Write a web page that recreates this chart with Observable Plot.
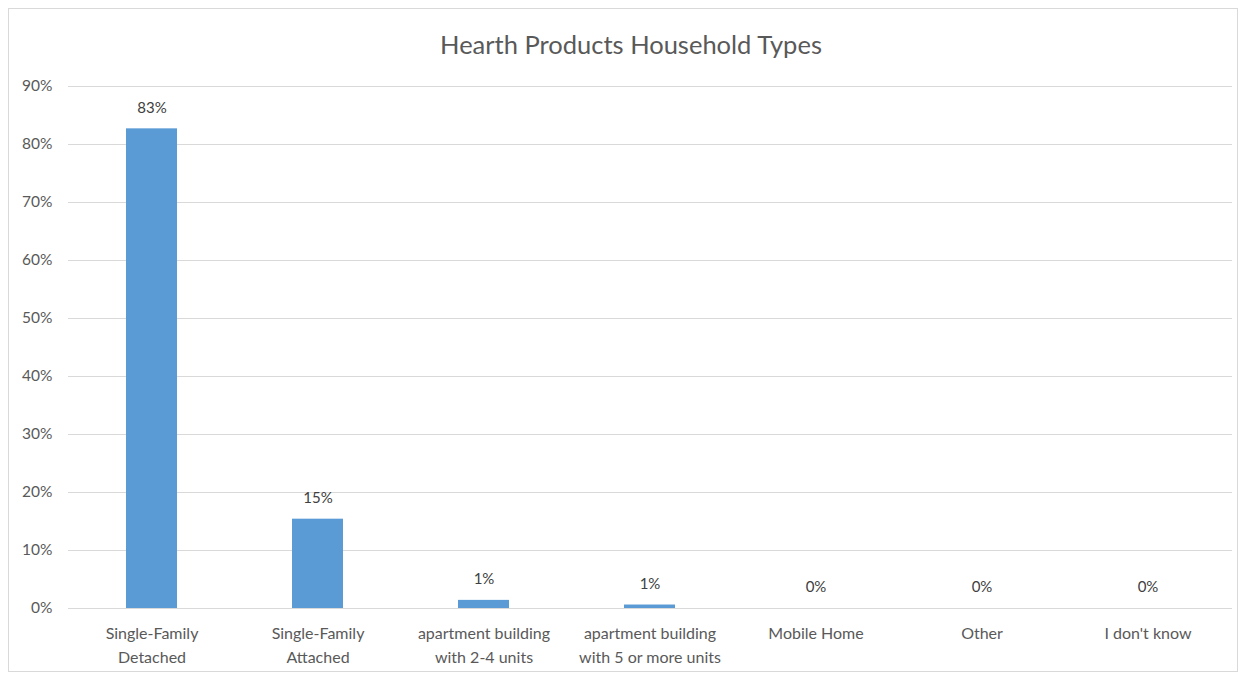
<!DOCTYPE html>
<html>
<head>
<meta charset="utf-8">
<script src="https://cdn.jsdelivr.net/npm/d3@7"></script>
<script src="https://cdn.jsdelivr.net/npm/@observablehq/plot@0.6"></script>
<style>
  html, body { margin: 0; padding: 0; background: #fff; }
  #wrap { position: relative; width: 1241px; height: 675px; overflow: hidden; }
  #frame { position: absolute; left: 8px; top: 8px; width: 1230px; height: 664px; border: 1px solid #d9d9d9; box-sizing: border-box; }
  #title { position: absolute; left: 16px; width: 1230px; top: 27px; text-align: center;
           font-family: Lato, "Open Sans", sans-serif; font-size: 25.5px; color: #595959; line-height: 34px; }
  #chart { position: absolute; left: 0; top: 0; }
</style>
</head>
<body>
<div id="wrap">
  <div id="frame"></div>
  <div id="chart"></div>
  <div id="title">Hearth Products Household Types</div>
</div>
<script>
const categories = [
  "Single-Family\nDetached",
  "Single-Family\nAttached",
  "apartment building\nwith 2-4 units",
  "apartment building\nwith 5 or more units",
  "Mobile Home",
  "Other",
  "I don't know"
];
const values = [82.7, 15.4, 1.4, 0.6, 0, 0, 0];
const yTicks = [0, 10, 20, 30, 40, 50, 60, 70, 80, 90];

const data = categories.map((c, i) => ({ category: c, value: values[i], label: Math.round(values[i]) + "%" }));

const chart = Plot.plot({
  width: 1241,
  height: 675,
  marginTop: 86,
  marginBottom: 67,
  marginLeft: 68,
  marginRight: 9,
  style: { fontFamily: "Lato, 'Open Sans', sans-serif", fontSize: "15px", color: "#595959", background: "transparent" },
  x: { domain: categories, paddingInner: 0.69, paddingOuter: 0.345, label: null },
  y: { domain: [0, 90], label: null },
  marks: [
    Plot.gridY(yTicks, { stroke: "#d9d9d9", strokeOpacity: 1, strokeWidth: 1 }),
    Plot.barY(data, { x: "category", y: "value", fill: "#5b9bd5" }),
    Plot.text(data, { x: "category", y: "value", text: "label", dy: -21, fill: "#404040", fontSize: 15 }),
    Plot.axisY(yTicks, { tickSize: 0, tickPadding: 16, tickFormat: d => d + "%", fill: "#595959", fontSize: 15.5 }),
    Plot.axisX({ tickSize: 0, tickPadding: 13, lineHeight: 1.5, fill: "#595959", fontSize: 16, lineAnchor: "top" })
  ]
});
document.getElementById("chart").appendChild(chart);
</script>
</body>
</html>
